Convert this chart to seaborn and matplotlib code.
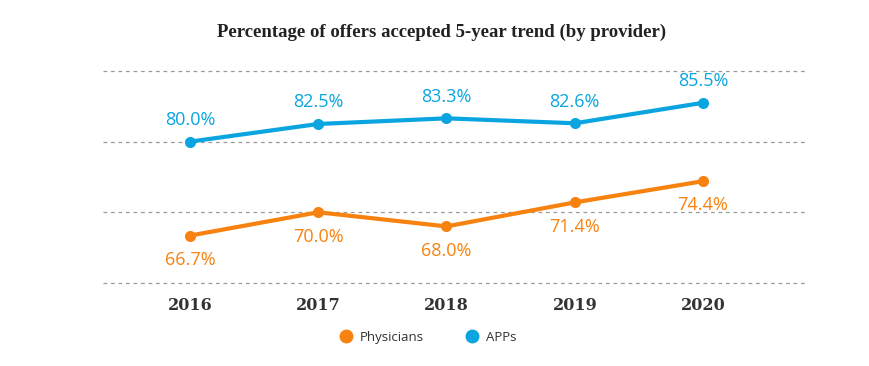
import matplotlib
matplotlib.use('Agg')
import matplotlib.pyplot as plt
import seaborn as sns
import pandas as pd

# Data
years = ['2016', '2017', '2018', '2019', '2020']
physicians = [66.7, 70.0, 68.0, 71.4, 74.4]
apps = [80.0, 82.5, 83.3, 82.6, 85.5]

BLUE = '#0aa5e0'
ORANGE = '#f7820f'

df = pd.DataFrame({
    'year': years * 2,
    'pct': physicians + apps,
    'provider': ['Physicians'] * 5 + ['APPs'] * 5,
})

sns.set_style('white')

fig = plt.figure(figsize=(8.7, 3.66), dpi=100)
ax = fig.add_axes([0.118, 0.227, 0.811, 0.579])

sns.lineplot(data=df, x='year', y='pct', hue='provider',
             palette={'Physicians': ORANGE, 'APPs': BLUE},
             marker='o', markersize=8, markeredgewidth=0, linewidth=3,
             sort=False, legend=False, ax=ax)

# data labels
for i, (p, a) in enumerate(zip(physicians, apps)):
    ax.annotate(f'{p:.1f}%', (i, p), xytext=(0, -11), textcoords='offset points',
                ha='center', va='top', color=ORANGE, fontsize=13, family='Open Sans')
    ax.annotate(f'{a:.1f}%', (i, a), xytext=(0, 9), textcoords='offset points',
                ha='center', va='bottom', color=BLUE, fontsize=13, family='Open Sans')

ax.set_ylim(60, 90)
ax.set_xlim(-0.68, 4.82)
ax.set_yticks([60, 70, 80, 90])
ax.yaxis.grid(True, linestyle=(0, (3, 3)), color='#9a9a9a', linewidth=0.9)
for gl in ax.get_ygridlines():
    gl.set_clip_on(False)
ax.set_yticklabels([])
ax.tick_params(axis='y', length=0)
ax.tick_params(axis='x', length=0, pad=10)
for lbl in ax.get_xticklabels():
    lbl.set_family('DejaVu Serif')
    lbl.set_fontweight('bold')
    lbl.set_fontsize(11.5)
    lbl.set_color('#333333')
for s in ax.spines.values():
    s.set_visible(False)
ax.set_xlabel('')
ax.set_ylabel('')

fig.text(0.508, 0.912, 'Percentage of offers accepted 5-year trend (by provider)',
         ha='center', va='center', fontsize=13.5, family='Liberation Serif',
         fontweight='bold', color='#222222')

# legend
handles = [plt.Line2D([], [], marker='o', linestyle='', color=ORANGE, markersize=9),
           plt.Line2D([], [], marker='o', linestyle='', color=BLUE, markersize=9)]
fig.legend(handles, ['Physicians', 'APPs'], loc='center', bbox_to_anchor=(0.488, 0.078),
           ncol=2, frameon=False, handletextpad=0.1, columnspacing=2.6,
           prop={'family': 'Open Sans', 'size': 9.5}, labelcolor='#333333')

fig.savefig('out.png', dpi=100)
